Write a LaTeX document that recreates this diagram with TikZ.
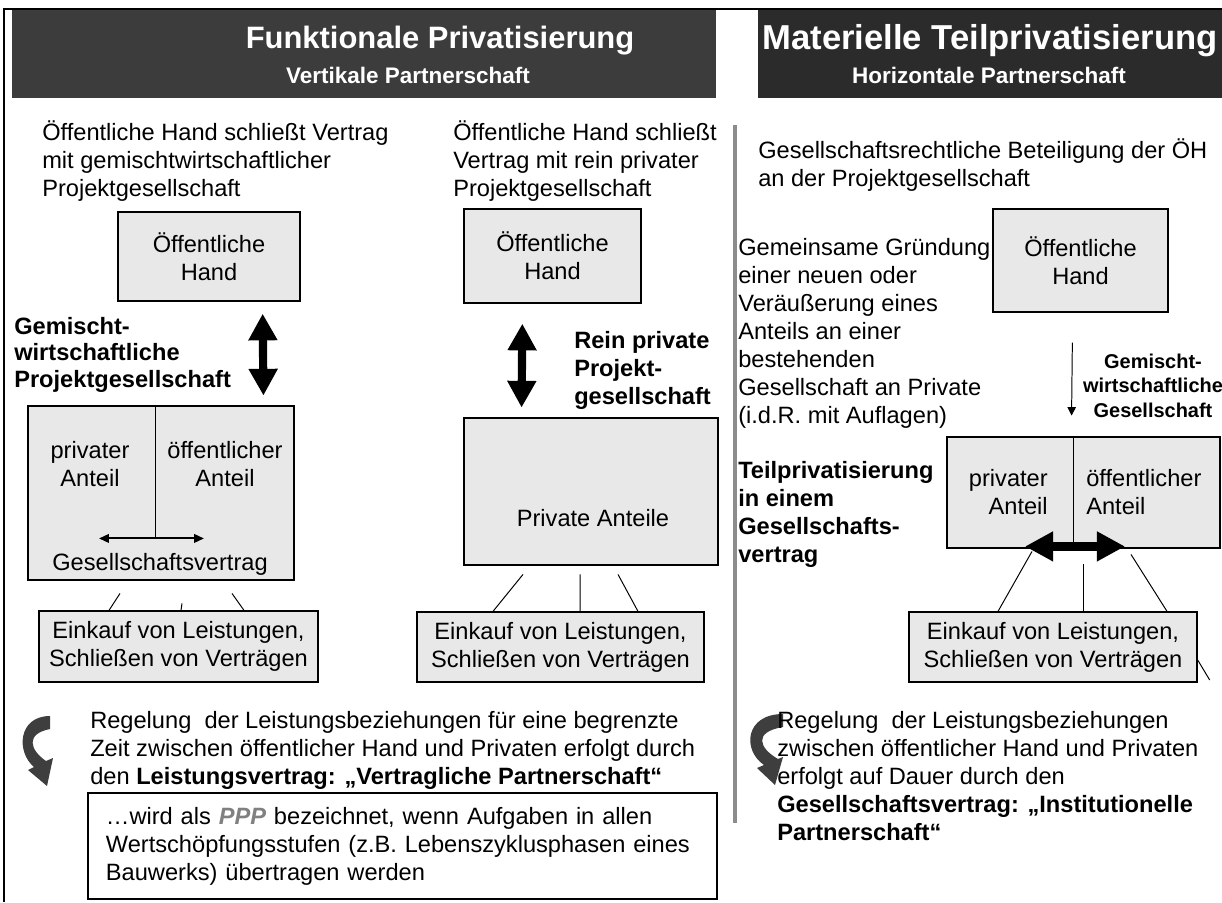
\documentclass[tikz,border=0pt]{standalone}
\usepackage{fontspec}
\setmainfont{Liberation Sans}
\usepackage{tikz}
\usetikzlibrary{positioning, arrows.meta, calc}

\definecolor{boxgray}{HTML}{E8E8E8}
\definecolor{headA}{HTML}{3C3C3C}
\definecolor{headB}{HTML}{2B2B2B}
\definecolor{sepgray}{HTML}{8C8C8C}
\definecolor{curlgray}{HTML}{3E3E3E}
\definecolor{pppgray}{HTML}{808080}

\newcommand{\bodyfont}{\fontsize{16.8}{19.9}\selectfont}
\newcommand{\smallbold}{\fontsize{14.2}{17.4}\selectfont\bfseries}

\begin{document}
\begin{tikzpicture}[x=0.025cm, y=-0.025cm,
  txt/.style={anchor=base west, align=left, inner sep=0, font=\bodyfont},
  btxt/.style={txt, font=\bodyfont\bfseries},
  ctxt/.style={anchor=base, align=center, inner sep=0, font=\bodyfont},
  greybox/.style={draw, fill=boxgray, line width=0.9pt, align=center, inner sep=0, font=\bodyfont},
  thickbox/.style={draw, fill=boxgray, line width=2pt, inner sep=0},
  headbox/.style={inner sep=0, minimum height=2.2cm},
  headtitle/.style={anchor=base, inner sep=0, text=white, font=\fontsize{22}{26}\selectfont\bfseries},
  headsub/.style={anchor=base, inner sep=0, text=white, font=\fontsize{16}{19}\selectfont\bfseries},
  fatarrow/.style={line width=5.8pt, {Triangle[width=19.5pt,length=19pt]}-{Triangle[width=19.5pt,length=19pt]}},
  thinline/.style={line width=0.7pt},
  curl/.style={fill=curlgray}]

\useasboundingbox (0,0) rectangle (1222,902);

% frame and headers
\draw[line width=1.2pt] (4,902) -- (4,9) -- (1222,9);
\node[headbox, fill=headA, minimum width=17.6cm] (headL) at (364,54) {};
\node[headbox, fill=headB, minimum width=11.65cm] (headR) at (991,54) {};
\node[headtitle] (titleL) at (440,48) {Funktionale Privatisierung};
\node[headsub] (subL) at (408,83) {Vertikale Partnerschaft};
\node[headtitle, font=\fontsize{24.6}{28}\selectfont\bfseries] (titleR) at (990,49) {Materielle Teilprivatisierung};
\node[headsub] (subR) at (989,83) {Horizontale Partnerschaft};

% separator
\draw[sepgray, line width=3pt] (735,125) -- (735,823);

% left column (base = last line)
\node[txt] (introL) at (42,196) {Öffentliche Hand schließt Vertrag\\mit gemischtwirtschaftlicher\\Projektgesellschaft};
\node[greybox, minimum width=4.55cm, minimum height=2.225cm] (oeh1) at (209,256.5) {Öffentliche\\Hand};
\node[btxt, font=\fontsize{16.8}{18.5}\selectfont\bfseries] (lblGem) at (14,387) {Gemischt-\\wirtschaftliche\\Projektgesellschaft};
\node[thickbox, minimum width=6.65cm, minimum height=4.35cm] (gemL) at (161,493) {};
\draw[thinline] ($(gemL.north)+(-6,0)$) -- ($(gemL.north)+(-6,134)$);
\node[ctxt] (privL) at (90,486) {privater\\Anteil};
\node[ctxt] (oeffL) at (225,486) {öffentlicher\\Anteil};
\draw[line width=1.5pt, {Triangle[width=6pt,length=7pt]}-{Triangle[width=6pt,length=7pt]}] ($(gemL.south)+(-62,-43)$) -- ($(gemL.south)+(43,-43)$);
\node[ctxt] (vertrL) at (160,570) {Gesellschaftsvertrag};
\draw[fatarrow] ($(oeh1.south east)+(-38,12)$) -- ($(gemL.north east)+(-32,-9)$);
\node[greybox, minimum width=6.975cm, minimum height=1.775cm] (einkL) at (178.5,646.5) {Einkauf von Leistungen,\\Schließen von Verträgen};
\draw[thinline] ($(gemL.south)+(-41,12)$) -- ($(einkL.north)+(-69.5,0)$);
\draw[thinline] ($(gemL.south)+(21,22)$) -- ($(einkL.north)+(2.5,0)$);
\draw[thinline] ($(gemL.south)+(71,12)$) -- ($(einkL.north)+(65.5,0)$);

% middle column
\node[txt] (introM) at (453,196) {Öffentliche Hand schließt\\Vertrag mit rein privater\\Projektgesellschaft};
\node[greybox, minimum width=4.425cm, minimum height=2.35cm] (oeh2) at (552.5,256) {Öffentliche\\Hand};
\node[btxt] (lblRein) at (574,404) {Rein private\\Projekt-\\gesellschaft};
\node[thickbox, minimum width=6.35cm, minimum height=3.675cm] (privA) at (591,491.5) {};
\node[ctxt] (privAtxt) at (593,526) {Private Anteile};
\draw[fatarrow] ($(oeh2.south west)+(59,20)$) -- ($(privA.north west)+(59,-9)$);
\node[greybox, minimum width=7.175cm, minimum height=1.75cm] (einkM) at (560.5,647) {Einkauf von Leistungen,\\Schließen von Verträgen};
\draw[thinline] ($(privA.south)+(-68,8)$) -- ($(einkM.north)+(-67.5,0)$);
\draw[thinline] ($(privA.south)+(-11,8)$) -- ($(einkM.north)+(19.5,0)$);
\draw[thinline] ($(privA.south)+(27,8)$) -- ($(einkM.north)+(77.5,0)$);

% right column
\node[txt] (introR) at (758,186) {Gesellschaftsrechtliche Beteiligung der ÖH\\an der Projektgesellschaft};
\node[txt] (gruend) at (738,423) {Gemeinsame Gründung\\einer neuen oder\\Veräußerung eines\\Anteils an einer\\bestehenden\\Gesellschaft an Private\\(i.d.R. mit Auflagen)};
\node[greybox, minimum width=4.375cm, minimum height=2.575cm] (oeh3) at (1080.5,260.5) {Öffentliche\\Hand};
\node[ctxt, font=\smallbold] (lblGemR) at (1153,417) {Gemischt-\\wirtschaftliche\\Gesellschaft};
\node[thickbox, minimum width=6.825cm, minimum height=2.775cm] (gemR) at (1083.5,492.5) {};
\draw[thinline, -{Triangle[width=6pt,length=6pt]}] ($(oeh3.south west)+(80,30)$) -- ($(gemR.north west)+(126,-20)$);
\draw[thinline] ($(gemR.north)+(-10.5,0)$) -- ($(gemR.south)+(-10.5,0)$);
\node[anchor=base east, align=right, inner sep=0, font=\bodyfont] (privR) at (1048,514) {privater\\Anteil};
\node[txt] (oeffR) at (1086,514) {öffentlicher\\Anteil};
\draw[line width=6.4pt, {Triangle[width=20pt,length=20pt]}-{Triangle[width=20pt,length=20pt]}] ($(gemR.south)+(-58.5,-3)$) -- ($(gemR.south)+(41.5,-3)$);
\node[btxt] (lblTeil) at (738,562) {Teilprivatisierung\\in einem\\Gesellschafts-\\vertrag};
\node[greybox, minimum width=7.2cm, minimum height=1.75cm] (einkR) at (1053,647) {Einkauf von Leistungen,\\Schließen von Verträgen};
\draw[thinline] ($(gemR.south)+(-51.5,2)$) -- ($(einkR.north)+(-55,0)$);
\draw[thinline] ($(gemR.south)+(-0.5,15)$) -- ($(einkR.north)+(30,0)$);
\draw[thinline] ($(gemR.south)+(47.5,5)$) -- ($(einkR.north)+(114,0)$);
\draw[thinline] ($(einkR.east)+(0,13)$) -- ($(einkR.east)+(12,33)$);

% bottom: curled arrows and texts
\fill[curl] (50,716) .. controls (18,716) and (16,752) .. (34,767) -- (28,770) -- (47,786)
  -- (53,758) -- (46,761) .. controls (30,750) and (25,734) .. (50,729) -- cycle;
\node[txt] (regL) at (90,784) {Regelung~ der Leistungsbeziehungen für eine begrenzte\\Zeit zwischen öffentlicher Hand und Privaten erfolgt durch\\den \textbf{Leistungsvertrag: „Vertragliche Partnerschaft“}};
\node[draw, line width=2pt, minimum width=15.725cm, minimum height=2.65cm, text width=14.825cm, inner xsep=0.45cm, inner ysep=0, align=left, font=\bodyfont] (pppbox) at (402.5,846) {…wird als \textcolor{pppgray}{\textbf{\textit{PPP}}} bezeichnet, wenn Aufgaben in allen\\Wertschöpfungsstufen (z.B. Lebenszyklusphasen eines\\Bauwerks) übertragen werden};

\fill[curl] (783,714) .. controls (745,714) and (742,750) .. (764,765) -- (757,768) -- (775,785)
  -- (783,757) -- (778,759) .. controls (759,748) and (753,732) .. (783,727) -- cycle;
\node[txt] (regR) at (777,840) {Regelung~ der Leistungsbeziehungen\\zwischen öffentlicher Hand und Privaten\\erfolgt auf Dauer durch den\\\textbf{Gesellschaftsvertrag: „Institutionelle}\\\textbf{Partnerschaft“}};

\end{tikzpicture}
\end{document}
